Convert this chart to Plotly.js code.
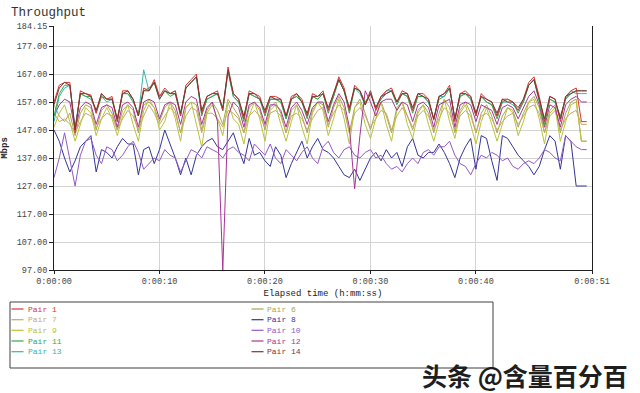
<!DOCTYPE html>
<html>
<head>
<meta charset="utf-8">
<script src="https://cdn.plot.ly/plotly-3.0.1.min.js"></script>
<style>
html,body{margin:0;padding:0;background:#fff;}
#chart{width:640px;height:393px;}
</style>
</head>
<body>
<div id="chart"></div>
<script>
// ---------- DATA ----------
const seconds = [0,0.5,1,1.5,2,2.5,3,3.5,4,4.5,5,5.5,6,6.5,7,7.5,8,8.5,9,9.5,
10,10.5,11,11.5,12,12.5,13,13.5,14,14.5,15,15.5,16,16.5,17,17.5,18,18.5,19,19.5,
20,20.5,21,21.5,22,22.5,23,23.5,24,24.5,25,25.5,26,26.5,27,27.5,28,28.5,29,29.5,
30,30.5,31,31.5,32,32.5,33,33.5,34,34.5,35,35.5,36,36.5,37,37.5,38,38.5,39,39.5,
40,40.5,41,41.5,42,42.5,43,43.5,44,44.5,45,45.5,46,46.5,47,47.5,48,48.5,49,49.5,
50,50.5];

const pair1 = [157,163,164,164,146,161,160,159.5,153,160,
158,159,150,161,161,158,152,162,161,165,
159,162,160,161,152,163,165,167,153,159,
160,161,154,169.5,160,158,151,161,160,159,
153,159,159,158,152,159,160,158,152,160,
159,161,154,160,166,162,154,163,161,156,
161,154,159,161,162,157,161,160,154,160,
160,158,150.5,159,160,163,150,160,161,159,
152,160,158,157,152,158,158,157,154,158,
164,166,159,150,159,158,150,159,161,162,
150,150];

const pair14 = [156,162,164,163,147,160,160,159,154,160,
158,158,151,160,161,158,152,161,161,164,
158,161,160,160,153,162,164,166,154,159,
160,160,155,168.5,160,158,152,160,160,158,
154,159,158,158,152,158,160,157,153,159,
159,160,155,160,165,161,155,162,161,156,
160,155,159,160,161,157,160,160,155,160,
159,158,151,159,160,162,151,160,160,159,
153,159,158,157,153,158,157,157,155,158,
163,165,158,151,159,158,151,159,160,161,
161,161];

const pair11 = [152,160,163,163,147,160,159,159,153,159,
158,158,150,160,160,157,153,161,162,164,
159,161,159,160,152,162,164,166,152,158,
159,160,154,168,159,157,150,160,159,158,
152,158,158,157,151,158,159,157,151,159,
158,160,153,159,165,161,153,162,161,157,
160,155,158,160,161,156,160,159,153,159,
159,157,151,158,159,162,151,159,160,158,
153,159,157,156,151,157,158,157,153,157,
163,165,157,149,158,157,152,158,160,161,
161,161];

const pair13 = [150,159,162,163,148,160,159,158,154,159,
157,158,151,160,160,158,152,168.5,161,164,
158,161,160,161,153,162,164,166,153,158,
159,160,154,168,159,157,151,160,159,158,
153,158,158,157,151,158,159,157,152,159,
158,160,154,159,165,161,154,162,160,156,
161,155,158,161,161,157,160,159,154,159,
159,157,151,159,159,162,151,159,160,158,
152,159,157,156,152,157,157,156,154,157,
163,165,158,150,158,157,151,158,161,160,
160,160];

const pair9 = [148,153,156,150,143,149,155,153,145,151,
155,151,145,152,156,149,143,154,158,155,
147,150,157,151,143,155,157,149,141,153,
156,151,145,157,151,149,142,152,157,151,
143,154,156,149,143,150,156,148,142,153,
157,154,145,151,158,151,142,155,157,149,
144,151,157,149,143,154,157,149,144,153,
156,149,143,150,158,150,144,153,156,149,
142,150,155,149,143,149,155,153,145,150,
157,158,151,142,153,155,143,150,156,157,
143,143];

const pair7 = [153,150,151,149,146,150,153,152,148,151,
153,152,147,151,154,152,147,152,156,153,
149,152,155,153,146,152,155,154,146,153,
153,151,148,154,153,151,146,152,154,152,
148,153,154,152,146,152,153,151,147,151,
154,155,149,153,156,154,146,153,155,152,
148,151,154,153,147,152,155,152,148,152,
154,152,147,151,155,153,147,152,154,152,
146,152,153,151,147,150,152,153,149,152,
155,156,153,146,152,154,147,151,153,154,
149,149];

const pair6 = [156,152,150,153,145,153,156,155,147,154,
156,153,147,154,156,154,146,156,157,155,
150,155,157,154,146,155,157,156,147,154,
157,154,149,158,155,152,146,155,157,154,
147,155,157,153,146,154,156,152,146,154,
157,156,148,155,159,155,146,155,158,153,
147,154,157,152,146,155,157,152,147,154,
156,153,146,153,158,155,146,154,157,153,
146,153,156,152,146,152,155,154,148,153,
157,159,155,146,154,156,146,153,157,158,
143,143];

const pair8 = [147,143,137,132,136,141,143,145,132,140,
139,137,141,144,142,142,131,140,141,135,
140,147,142,137,131,137,131,138,141,143,
144,141,140,143,146,140,135,144,138,139,
136,134,141,138,130,135,139,143,137,141,
144,140,139,137,134,131,130,133,129,133,
137,139,136,140,137,139,134,141,144,138,
137,139,139,142,139,135,130,137,141,144,
133,145,144,136,129,145,144,141,138,136,
134,131,134,140,145,143,133,145,143,127,
127,127];

const pair10 = [130,137,146,137,127,138,143,144,138,135,
141,140,136,138,141,143,139,133,135,137,
136,140,138,137,132,136,140,139,137,141,
140,139,137,140,141,139,138,136,142,140,
138,142,137,135,140,138,136,139,141,137,
135,141,143,139,137,140,141,138,137,139,
140,137,138,135,133,134,132,135,137,135,
139,140,138,141,141,143,138,135,134,131,
135,138,137,139,138,136,137,134,133,135,
136,135,137,140,139,137,136,145,143,141,
140,140];

const pair12 = [152,156,158,157,147,155,157,156,149,155,
156,155,148,156,157,155,148,157,158,157,
151,156,157,156,149,157,159,158,149,155,
157,150,97,152,157,155,148,156,157,155,
149,156,156,154,148,155,157,154,149,155,
157,157,150,156,160,157,148,126,145,161,
157,152,157,158,158,154,157,156,150,156,
157,155,148,156,157,158,148,156,157,156,
150,156,155,154,149,155,156,155,151,155,
159,161,156,148,156,155,148,156,158,159,
157,157];

const xTickVals = [0,10,20,30,40,51];
const xTickText = ["0:00:00","0:00:10","0:00:20","0:00:30","0:00:40","0:00:51"];
const yTickVals = [97,107,117,127,137,147,157,167,177,184.15];
const yTickText = ["97.00","107.00","117.00","127.00","137.00","147.00","157.00","167.00","177.00","184.15"];

const legendLeft = ["Pair 1","Pair 7","Pair 9","Pair 11","Pair 13"];
const legendRight = ["Pair 6","Pair 8","Pair 10","Pair 12","Pair 14"];

// ---------- STYLE ----------
const colors = {
  "Pair 1":"#d93434", "Pair 7":"#c9a86a", "Pair 9":"#b9c23a", "Pair 11":"#35a845",
  "Pair 13":"#38b4ae", "Pair 6":"#a9a653", "Pair 8":"#34349a", "Pair 10":"#9458c4",
  "Pair 12":"#a83496", "Pair 14":"#833232"
};
const seriesData = {
  "Pair 1":pair1, "Pair 7":pair7, "Pair 9":pair9, "Pair 11":pair11, "Pair 13":pair13,
  "Pair 6":pair6, "Pair 8":pair8, "Pair 10":pair10, "Pair 12":pair12, "Pair 14":pair14
};
const drawOrder = ["Pair 8","Pair 10","Pair 6","Pair 7","Pair 9","Pair 12","Pair 13","Pair 11","Pair 1","Pair 14"];

const W = 640, H = 393;
const L = 54, R = 592, T = 26, B = 270;
const px2x = p => (p - L) / (R - L);
const py2y = p => (B - p) / (B - T);

const traces = drawOrder.map(name => ({
  type:"scatter", mode:"lines", name:name,
  x: seconds, y: seriesData[name],
  line:{color:colors[name], width:1},
  showlegend:false, hoverinfo:"skip"
}));

const mono = "Liberation Mono, DejaVu Sans Mono, monospace";
const shapes = [{
  type:"rect", xref:"paper", yref:"paper",
  x0:px2x(10), x1:px2x(493), y0:py2y(368), y1:py2y(302),
  line:{color:"#404040", width:1}, fillcolor:"rgba(0,0,0,0)"
}];
const annotations = [];
const rowY = [309,319.7,330.3,341,351.7];
function addLegendCol(names, lineX0, textX){
  names.forEach((n,i) => {
    shapes.push({type:"line", xref:"paper", yref:"paper",
      x0:px2x(lineX0), x1:px2x(lineX0+12), y0:py2y(rowY[i]), y1:py2y(rowY[i]),
      line:{color:colors[n], width:1.2}});
    annotations.push({xref:"paper", yref:"paper", x:px2x(textX), y:py2y(rowY[i]),
      xanchor:"left", yanchor:"middle", showarrow:false, text:n,
      font:{family:mono, size:8, color:colors[n]}});
  });
}
addLegendCol(legendLeft, 11.5, 26);
addLegendCol(legendRight, 251.5, 265);

annotations.push({xref:"paper", yref:"paper", x:px2x(630), y:py2y(375),
  xanchor:"right", yanchor:"middle", showarrow:false, text:"头条 @含量百分百",
  font:{family:"Noto Sans CJK SC", size:25, weight:600, color:"#1e1e1e"}});

const layout = {
  width:W, height:H,
  margin:{l:L, r:W-R, t:T, b:H-B, pad:0},
  paper_bgcolor:"#ffffff", plot_bgcolor:"#ffffff",
  title:{text:"Throughput", xref:"container", yref:"container",
    x:11/W, xanchor:"left", y:1-12/H, yanchor:"middle",
    font:{family:mono, size:12.5, color:"#333333"}},
  xaxis:{range:[0,51], tickmode:"array", tickvals:xTickVals, ticktext:xTickText,
    showgrid:true, gridcolor:"#d4d4d4", gridwidth:1, zeroline:false,
    showline:true, linecolor:"#202020", linewidth:1, mirror:false,
    ticks:"outside", ticklen:3, tickcolor:"#202020",
    tickfont:{family:mono, size:8.5, color:"#444"},
    title:{text:"Elapsed time (h:mm:ss)", standoff:3, font:{family:mono, size:9, color:"#222"}}},
  yaxis:{range:[97,184.15], tickmode:"array", tickvals:yTickVals, ticktext:yTickText,
    showgrid:true, gridcolor:"#d4d4d4", gridwidth:1, zeroline:false,
    showline:true, linecolor:"#202020", linewidth:1, mirror:true,
    ticks:"outside", ticklen:4, tickcolor:"#202020",
    tickfont:{family:mono, size:8.5, color:"#444"},
    title:{text:"<b>Mbps</b>", standoff:8, font:{family:mono, size:9, color:"#222"}}},
  shapes:shapes, annotations:annotations
};

Plotly.newPlot("chart", traces, layout, {displayModeBar:false, staticPlot:true});
</script>
</body>
</html>
